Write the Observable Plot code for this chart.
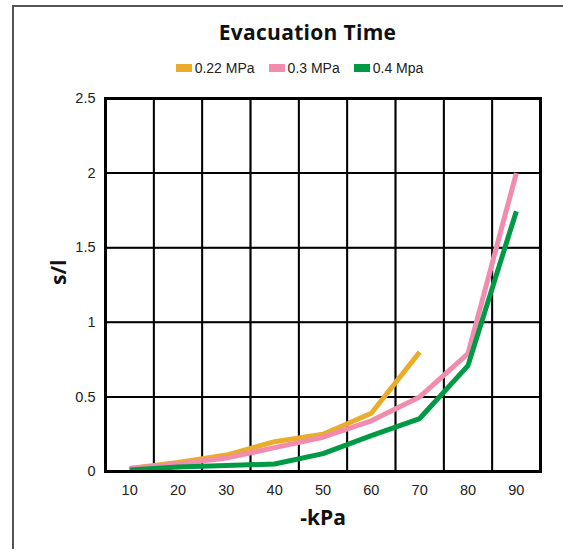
<!DOCTYPE html>
<html><head><meta charset="utf-8">
<script src="https://cdn.jsdelivr.net/npm/d3@7"></script>
<script src="https://cdn.jsdelivr.net/npm/@observablehq/plot@0.6"></script>
<style>
body{margin:0;background:#fff;}
#wrap{position:relative;width:563px;height:549px;overflow:hidden;background:#fff;}
#border{position:absolute;left:12px;top:5px;width:600px;height:600px;border:2px solid #555;box-sizing:border-box;z-index:5;pointer-events:none;}
#head{position:relative;height:88px;}
#title{position:absolute;top:18px;left:26px;width:563px;text-align:center;font:bold 21px "Open Sans", sans-serif;color:#111;letter-spacing:0.3px;}
#legend{position:absolute;top:60px;left:18px;width:563px;display:flex;justify-content:center;font:14px "Liberation Sans", Arial, sans-serif;color:#222;}
.it{display:flex;align-items:center;margin:0 7px;}
.sw{width:16px;height:8px;margin-right:3px;}
svg{display:block;position:relative;}
</style></head>
<body><div id="wrap"><div id="border"></div><div id="head"><div id="title"></div><div id="legend"></div></div><div id="chart"></div></div>
<script>
const xValues = [10, 20, 30, 40, 50, 60, 70, 80, 90];
const seriesNames = ["0.22 MPa", "0.3 MPa", "0.4 Mpa"];
const seriesColors = ["#EAAC2B", "#F28CAE", "#009A45"];
const s022 = [0.02, 0.06, 0.11, 0.20, 0.25, 0.39, 0.80];
const s03 = [0.02, 0.05, 0.09, 0.16, 0.23, 0.34, 0.50, 0.79, 2.00];
const s04 = [0.01, 0.03, 0.04, 0.05, 0.12, 0.24, 0.355, 0.71, 1.745];
const yTicks = [0, 0.5, 1, 1.5, 2, 2.5];
const xGrid = [15, 25, 35, 45, 55, 65, 75, 85];
const yGrid = [0.5, 1, 1.5, 2];

document.getElementById("title").textContent = "Evacuation Time";
const lg = document.getElementById("legend");
seriesNames.forEach((n, i) => {
  const it = document.createElement("div"); it.className = "it";
  const sw = document.createElement("div"); sw.className = "sw"; sw.style.background = seriesColors[i];
  const tx = document.createElement("span"); tx.textContent = n;
  it.appendChild(sw); it.appendChild(tx); lg.appendChild(it);
});

const all = [s022, s03, s04];
const data = [];
all.forEach((arr, i) => arr.forEach((v, j) => data.push({x: xValues[j], y: v, s: seriesNames[i]})));

const chart = Plot.plot({
  width: 563, height: 461,
  marginLeft: 105, marginRight: 23, marginTop: 10, marginBottom: 78,
  style: {fontFamily: "'Liberation Sans', Arial, sans-serif", fontSize: "14.5px", color: "#222", background: "white"},
  x: {domain: [5, 95], ticks: xValues, tickSize: 0, tickPadding: 13, label: null},
  y: {domain: [0, 2.5], ticks: yTicks, tickSize: 0, tickPadding: 10, label: null, tickFormat: d => String(d)},
  color: {domain: seriesNames, range: seriesColors},
  marks: [
    Plot.ruleX(xGrid, {stroke: "#555", strokeWidth: 1.5}),
    Plot.ruleY(yGrid, {stroke: "#555", strokeWidth: 1.5}),
    Plot.tickX(xGrid, {y1: 0, y2: 0.05, stroke: "#000", strokeWidth: 2}),
    Plot.tickY(yGrid, {x1: 5, x2: 6, stroke: "#000", strokeWidth: 2}),
    Plot.line(data, {x: "x", y: "y", z: "s", stroke: "s", strokeWidth: 5, strokeLinejoin: "miter", strokeLinecap: "butt"}),
    Plot.frame({stroke: "#000", strokeWidth: 3}),
    Plot.axisX({ticks: xValues, tickSize: 0, tickPadding: 13, label: null}),
    Plot.axisY({ticks: yTicks, tickSize: 0, tickPadding: 10, label: null, tickFormat: d => String(d)}),
    Plot.text(["-kPa"], {frameAnchor: "bottom", dy: 53, fontSize: 21, fontWeight: "bold", fontFamily: "'Open Sans', sans-serif", fill: "#111"}),
    Plot.text(["s/l"], {frameAnchor: "left", dx: -46, rotate: -90, fontSize: 21, fontWeight: "bold", fontFamily: "'Open Sans', sans-serif", fill: "#111"})
  ]
});
document.getElementById("chart").appendChild(chart);
</script></body></html>
